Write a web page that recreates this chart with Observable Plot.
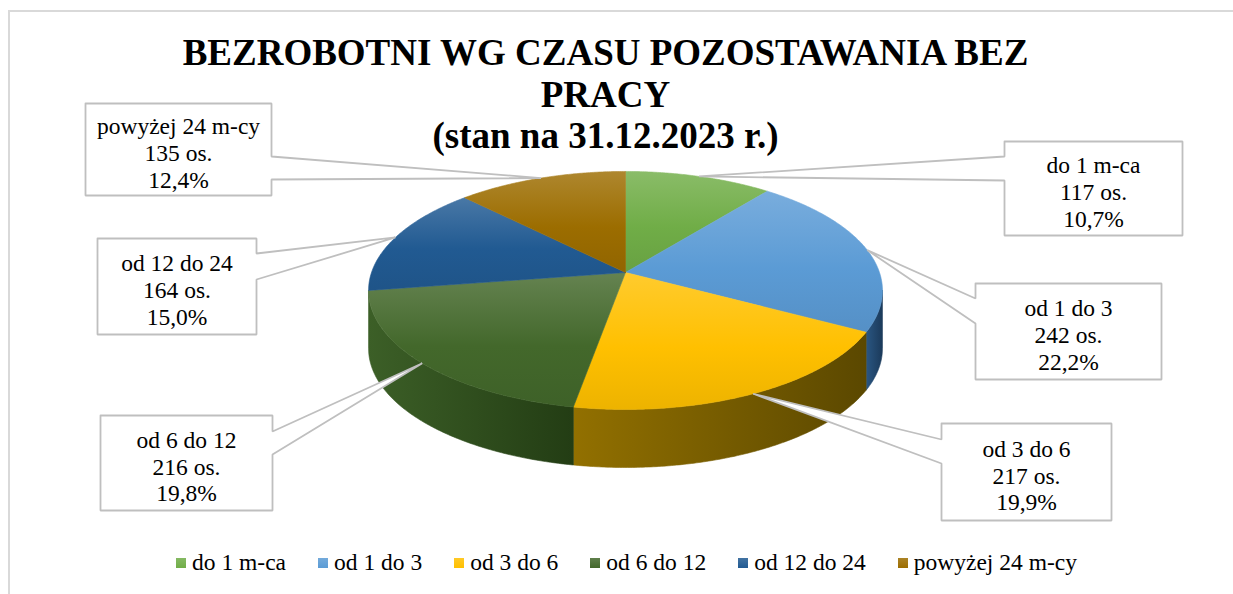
<!DOCTYPE html>
<html><head><meta charset="utf-8">
<script src="https://cdn.jsdelivr.net/npm/d3@7"></script>
<script src="https://cdn.jsdelivr.net/npm/@observablehq/plot@0.6"></script>
<style>
body{margin:0;background:#fff;}
#wrap{position:relative;width:1233px;height:594px;overflow:hidden;background:#fff;}
#frame{position:absolute;left:8px;top:10px;width:1240px;height:600px;border-left:2px solid #d9d9d9;border-top:2px solid #d9d9d9;}
#chart{position:absolute;left:0;top:0;}
#chart svg text{font-family:"Liberation Serif","Times New Roman",Tinos,"DejaVu Serif",serif !important;}
#legend{position:absolute;top:549px;left:10px;width:1233px;display:flex;justify-content:center;font-family:"Liberation Serif","Times New Roman",Tinos,"DejaVu Serif",serif;font-size:23.5px;color:#000;}
.item{display:flex;align-items:center;margin:0 16px;white-space:nowrap;}
.sw{width:10px;height:10px;margin-right:6px;}
</style></head><body>
<div id="wrap"><div id="frame"></div><div id="chart"></div><div id="legend"></div></div>
<script>
// ---- data ----
const categories = ["do 1 m-ca", "od 1 do 3", "od 3 do 6", "od 6 do 12", "od 12 do 24", "powyżej 24 m-cy"];
const counts = [117, 242, 217, 216, 164, 135];
const unitLabel = "os.";
const percentLabels = ["10,7%", "22,2%", "19,9%", "19,8%", "15,0%", "12,4%"];
const titleLines = ["BEZROBOTNI WG CZASU POZOSTAWANIA BEZ", "PRACY", "(stan na 31.12.2023 r.)"];

// ---- styles ----
const topColors = ["#70AD47", "#5B9BD5", "#FFC000", "#43682B", "#215A92", "#9C6D00"];
const wallLight = ["#4f7a33", "#2a5682", "#927000", "#3c5f27", "#173f66", "#6e4e00"];
const wallDark  = ["#35561f", "#1b3a5a", "#5b4800", "#233d14", "#0f2c48", "#4d3700"];
const serif = "Liberation Serif, Times New Roman, Tinos, DejaVu Serif, serif";

// ---- layout ----
const W = 1233, H = 594;
const geom = {cx: 625, cy: 272, A: 254, B: 116.3, p: 0.151, depth: 58};
const boxes = [
  {x0: 1004, y0: 141, x1: 1182, y1: 235, side: "left",  b0: 156, b1: 180},
  {x0: 975,  y0: 283, x1: 1161, y1: 379, side: "left",  b0: 298, b1: 323},
  {x0: 941,  y0: 423, x1: 1111, y1: 520, side: "left",  b0: 439, b1: 463},
  {x0: 100,  y0: 415, x1: 272,  y1: 510, side: "right", b0: 431, b1: 454},
  {x0: 97,   y0: 238, x1: 256,  y1: 334, side: "right", b0: 253, b1: 279},
  {x0: 85,   y0: 103, x1: 271,  y1: 195, side: "right", b0: 156, b1: 179}
];

// ---- geometry from the data ----
function proj(theta, drop = 0) {
  const u = Math.sin(theta), v = Math.cos(theta), w = 1 + geom.p * v;
  return [geom.cx + geom.A * u / w, geom.cy - geom.B * v / w + drop];
}
const arcs = d3.pie().sort(null).startAngle(0).endAngle(2 * Math.PI)(counts);
const step = Math.PI / 360;
function rim(a0, a1, drop = 0) {
  const n = Math.max(2, Math.ceil((a1 - a0) / step));
  return d3.range(n + 1).map(k => proj(a0 + (a1 - a0) * k / n, drop));
}
const topRows = [];
arcs.forEach((a, i) => {
  const pts = [[geom.cx, geom.cy], ...rim(a.startAngle, a.endAngle), [geom.cx, geom.cy]];
  pts.forEach(([x, y]) => topRows.push({i, x, y}));
});
const th1 = Math.acos(-geom.p), th2 = 2 * Math.PI - th1;
const wallRows = [];
arcs.forEach((a, i) => {
  const lo = Math.max(a.startAngle, th1), hi = Math.min(a.endAngle, th2);
  if (lo < hi) {
    const pts = [...rim(lo, hi), ...rim(lo, hi, geom.depth).reverse()];
    pts.push(pts[0]);
    pts.forEach(([x, y]) => wallRows.push({i, x, y}));
  }
});
const shadowRows = [...rim(th1, th2, geom.depth), ...rim(th2, th1 + 2 * Math.PI)].map(([x, y]) => ({x, y}));
const calloutRows = [], textRows = [];
arcs.forEach((a, i) => {
  const b = boxes[i];
  const tip = proj((a.startAngle + a.endAngle) / 2);
  let pts;
  if (b.side === "right") {
    pts = [[b.x0, b.y0], [b.x1, b.y0], [b.x1, b.b0], tip, [b.x1, b.b1], [b.x1, b.y1], [b.x0, b.y1], [b.x0, b.y0]];
  } else {
    pts = [[b.x0, b.y0], [b.x1, b.y0], [b.x1, b.y1], [b.x0, b.y1], [b.x0, b.b1], tip, [b.x0, b.b0], [b.x0, b.y0]];
  }
  pts.forEach(([x, y]) => calloutRows.push({i, x, y}));
  textRows.push({x: (b.x0 + b.x1) / 2, y: (b.y0 + b.y1) / 2 + 3,
    text: `${categories[i]}\n${counts[i]} ${unitLabel}\n${percentLabels[i]}`});
});

const marks = [
  Plot.line(shadowRows, {x: "x", y: "y", fill: "#000", fillOpacity: 0.55, stroke: "none", dx: 2, dy: 5, ariaLabel: "pie-shadow"})
];
arcs.forEach((a, i) => {
  const rows = wallRows.filter(d => d.i === i);
  if (rows.length) marks.push(Plot.line(rows, {x: "x", y: "y", fill: `url(#wall-${i})`, stroke: `url(#wall-${i})`, strokeWidth: 0.6}));
});
arcs.forEach((a, i) => {
  marks.push(Plot.line(topRows.filter(d => d.i === i), {x: "x", y: "y", fill: `url(#top-${i})`, stroke: `url(#top-${i})`, strokeWidth: 0.6}));
});
marks.push(Plot.line(calloutRows, {x: "x", y: "y", z: "i", fill: "white", stroke: "#bfbfbf", strokeWidth: 1.8, strokeLinejoin: "miter"}));
marks.push(Plot.text(textRows, {x: "x", y: "y", text: "text", fontSize: 23.5, fontFamily: serif, lineHeight: 1.13, fill: "#000", textAnchor: "middle", lineAnchor: "middle"}));
marks.push(Plot.text([titleLines.join("\n")], {x: 605, y: 93, text: d => d, fontSize: 37, fontWeight: "bold", fontFamily: serif, lineHeight: 1.12, fill: "#000", textAnchor: "middle", lineAnchor: "middle"}));

const chart = Plot.plot({
  width: W, height: H, margin: 0,
  style: {background: "transparent", overflow: "visible", fontFamily: serif},
  x: {domain: [0, W], range: [0, W], axis: null},
  y: {domain: [0, H], range: [0, H], axis: null},
  marks
});

const svg = d3.select(chart);
const defs = svg.insert("defs", ":first-child");
const blur = defs.append("filter").attr("id", "blur").attr("x", "-10%").attr("y", "-20%").attr("width", "120%").attr("height", "140%");
blur.append("feGaussianBlur").attr("stdDeviation", 3.5);
topColors.forEach((c, i) => {
  const g = defs.append("linearGradient").attr("id", `top-${i}`).attr("x1", 0).attr("y1", 0).attr("x2", 0).attr("y2", 1);
  g.append("stop").attr("offset", 0).attr("stop-color", d3.interpolateRgb(c, "#fff")(0.18));
  g.append("stop").attr("offset", 0.55).attr("stop-color", c);
  g.append("stop").attr("offset", 1).attr("stop-color", d3.interpolateRgb(c, "#000")(0.07));
  const w = defs.append("linearGradient").attr("id", `wall-${i}`).attr("x1", 0).attr("y1", 0).attr("x2", 1).attr("y2", 0);
  w.append("stop").attr("offset", 0).attr("stop-color", wallLight[i]);
  w.append("stop").attr("offset", 1).attr("stop-color", wallDark[i]);
});
svg.select('g[aria-label="pie-shadow"]').attr("filter", "url(#blur)");
document.getElementById("chart").appendChild(chart);

// legend
const legend = d3.select("#legend");
categories.forEach((c, i) => {
  const it = legend.append("div").attr("class", "item");
  it.append("div").attr("class", "sw").style("background", `linear-gradient(${d3.interpolateRgb(topColors[i], "#fff")(0.15)}, ${topColors[i]})`);
  it.append("span").text(c);
});
</script>
</body></html>
